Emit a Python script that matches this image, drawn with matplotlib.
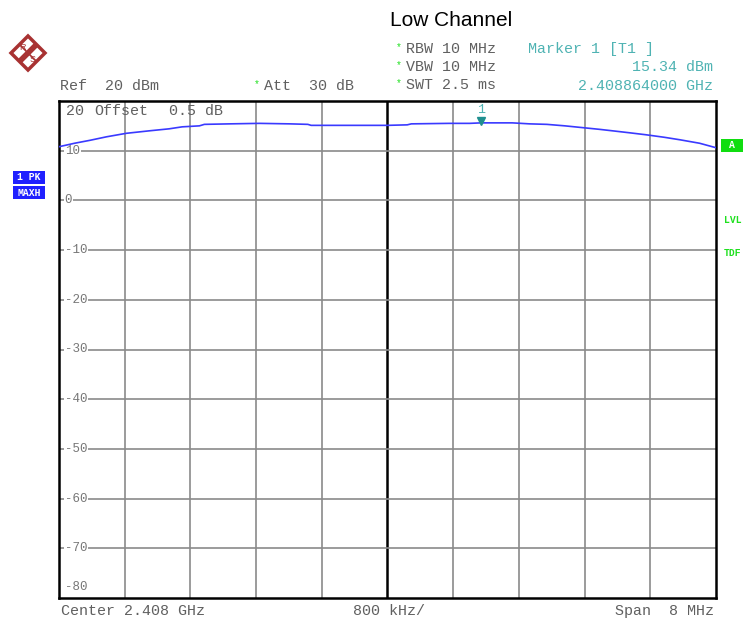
import matplotlib
matplotlib.use("Agg")
import matplotlib.pyplot as plt
from matplotlib.patches import Polygon, Rectangle
import numpy as np

# trace: offset from center (MHz) and level (dBm)
freq_offset_mhz = [-4.00, -3.81, -3.62, -3.42, -3.18, -2.90, -2.66, -2.50, -2.29, -2.23,
                   -1.92, -1.56, -1.19, -0.97, -0.93, -0.46, 0.00, 0.24, 0.29, 0.75,
                   1.00, 1.14, 1.52, 1.73, 1.94, 2.16, 2.34, 2.58, 2.74, 2.95,
                   3.15, 3.37, 3.56, 3.80, 4.00]
level_dbm = [10.8, 11.5, 12.1, 12.8, 13.5, 14.0, 14.4, 14.8, 15.0, 15.3,
             15.4, 15.5, 15.4, 15.3, 15.1, 15.1, 15.1, 15.2, 15.4, 15.5,
             15.5, 15.6, 15.6, 15.4, 15.3, 15.0, 14.7, 14.3, 14.0, 13.6,
             13.2, 12.7, 12.2, 11.5, 10.6]
marker_offset_mhz = 1.14
marker_level_dbm = 15.6
y_ticks = [10, 0, -10, -20, -30, -40, -50, -60, -70]
x_grid = np.arange(-4.0, 4.01, 0.8)

MONO = "Liberation Mono"
GRAY = "#606060"
TEAL = "#4fb3b3"
GREEN = "#1fe01f"
FS = 10.8

fig = plt.figure(figsize=(7.47, 6.24), dpi=100)
W, H = 747, 624
ax = fig.add_axes([59 / W, 1 - 598 / H, (716 - 59) / W, (598 - 101) / H])
ax.set_xlim(-4, 4)
ax.set_ylim(-80, 20)
ax.set_xticks([])
ax.set_yticks([])
for sp in ax.spines.values():
    sp.set_linewidth(1.8)
    sp.set_color("black")

for xv in x_grid[1:-1]:
    if abs(xv) < 1e-9:
        ax.axvline(xv, color="black", lw=1.8, zorder=1)
    else:
        ax.axvline(xv, color="#8a8a8a", lw=1.2, zorder=1)
for yv in y_ticks:
    ax.axhline(yv, color="#8a8a8a", lw=1.2, zorder=1)
    ax.text(-3.93, yv, f"{yv}", fontsize=9, family=MONO, color="#777777", va="center",
            ha="left", zorder=2, bbox=dict(facecolor="white", edgecolor="none", pad=0.6))
ax.text(-3.93, -77.8, "-80", fontsize=9, family=MONO, color="#777777", va="center", ha="left")

ax.plot(freq_offset_mhz, level_dbm, color="#3a3aff", lw=1.2, zorder=3)
ax.plot([marker_offset_mhz], [marker_level_dbm + 0.4], marker="v", color="#1f8f8f",
        markersize=6, zorder=4)
ax.text(marker_offset_mhz, marker_level_dbm + 1.4, "1", fontsize=9.5, family=MONO, color=TEAL,
        ha="center", va="bottom")

# overlay in pixel coordinates for the instrument annotations
ov = fig.add_axes([0, 0, 1, 1], zorder=5)
ov.set_xlim(0, W)
ov.set_ylim(H, 0)
ov.axis("off")
ov.patch.set_visible(False)

ov.text(451, 20, "Low Channel", fontsize=15, family="Liberation Sans", ha="center", va="center")

ov.text(60, 86, "Ref  20 dBm", fontsize=FS, family=MONO, color=GRAY, va="center")
ov.text(257, 84, "*", fontsize=7, family=MONO, color=GREEN, va="center", ha="center")
ov.text(264, 86, "Att  30 dB", fontsize=FS, family=MONO, color=GRAY, va="center")
for yy, txt in [(49, "RBW 10 MHz"), (67, "VBW 10 MHz"), (85, "SWT 2.5 ms")]:
    ov.text(399, yy - 2, "*", fontsize=7, family=MONO, color=GREEN, va="center", ha="center")
    ov.text(406, yy, txt, fontsize=FS, family=MONO, color=GRAY, va="center")
ov.text(528, 49, "Marker 1 [T1 ]", fontsize=FS, family=MONO, color=TEAL, va="center")
ov.text(713, 67, "15.34 dBm", fontsize=FS, family=MONO, color=TEAL, va="center", ha="right")
ov.text(713, 86, "2.408864000 GHz", fontsize=FS, family=MONO, color=TEAL, va="center", ha="right")
ov.text(66, 111, "20", fontsize=FS, family=MONO, color=GRAY, va="center")
ov.text(94, 111, "Offset", fontsize=FS, family=MONO, color=GRAY, va="center")
ov.text(169, 111, "0.5 dB", fontsize=FS, family=MONO, color=GRAY, va="center")

ov.text(61, 611, "Center 2.408 GHz", fontsize=FS, family=MONO, color=GRAY, va="center")
ov.text(353, 611, "800 kHz/", fontsize=FS, family=MONO, color=GRAY, va="center")
ov.text(714, 611, "Span  8 MHz", fontsize=FS, family=MONO, color=GRAY, va="center", ha="right")

# left status boxes
ov.add_patch(Rectangle((13, 171), 32, 13, facecolor="#2020ff", edgecolor="none"))
ov.add_patch(Rectangle((13, 186), 32, 13, facecolor="#2020ff", edgecolor="none"))
ov.text(29, 177.5, "1 PK", fontsize=7, family=MONO, color="white", weight="bold", ha="center", va="center")
ov.text(29, 192.5, "MAXH", fontsize=7, family=MONO, color="white", weight="bold", ha="center", va="center")

# right status
ov.add_patch(Rectangle((721, 139), 22, 13, facecolor="#10dd10", edgecolor="none"))
ov.text(732, 145.5, "A", fontsize=7, family=MONO, color="white", weight="bold", ha="center", va="center")
ov.text(733, 220, "LVL", fontsize=7, family=MONO, color=GREEN, weight="bold", ha="center", va="center")
ov.text(733, 253, "TDF", fontsize=7, family=MONO, color=GREEN, weight="bold", ha="center", va="center")

# R&S logo
cx, cy, r = 28, 53, 17
red = "#a83232"
ov.add_patch(Polygon([(cx, cy - r), (cx + r, cy), (cx, cy + r), (cx - r, cy)], closed=True,
                     facecolor="white", edgecolor=red, lw=2.5))
ov.plot([cx + 9, cx - 9], [cy - 9, cy + 9], color=red, lw=4, solid_capstyle="butt")
ov.plot([cx - 8, cx + 8], [cy - 8, cy + 8], color=red, lw=1.2)
ov.text(cx - 5, cy - 5, "R", fontsize=6.5, family="Liberation Sans", color=red, ha="center", va="center")
ov.text(cx + 5, cy + 6, "S", fontsize=6.5, family="Liberation Sans", color=red, ha="center", va="center")

fig.savefig("out.png", dpi=100)
